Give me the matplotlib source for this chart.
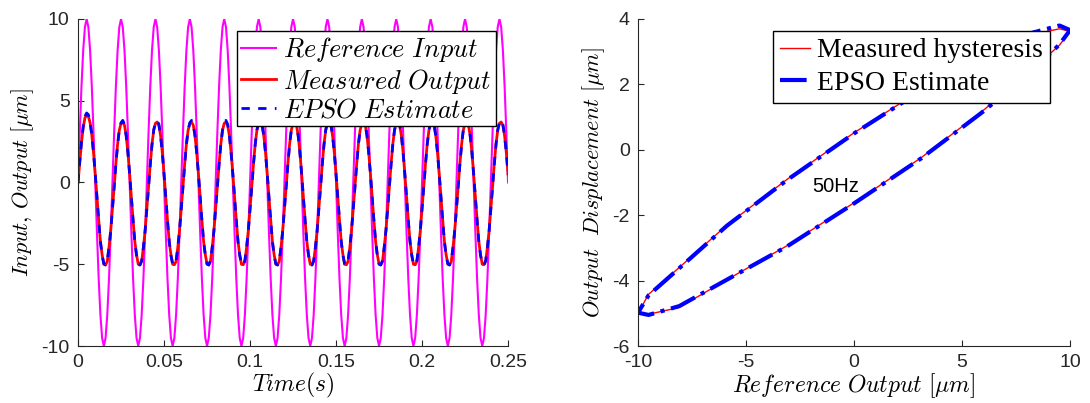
#!/usr/bin/env python3

import numpy as np
import matplotlib
matplotlib.use('Agg')
import matplotlib.pyplot as plt

plt.rcParams['font.family'] = ['Liberation Sans', 'DejaVu Sans']
plt.rcParams['mathtext.fontset'] = 'cm'
plt.rcParams['axes.unicode_minus'] = False

ref_cycle = [0.0, 3.09, 5.88, 8.09, 9.51, 10.0, 9.51, 8.09, 5.88, 3.09,
             0.0, -3.09, -5.88, -8.09, -9.51, -10.0, -9.51, -8.09, -5.88, -3.09]
meas_cycle = [-1.62, -0.25, 1.15, 2.35, 3.2, 3.62, 3.7, 3.5, 2.85, 1.82,
              0.52, -0.9, -2.3, -3.6, -4.42, -5.0, -5.03, -4.82, -3.97, -2.93]
epso_cycle = [-1.64, -0.27, 1.12, 2.32, 3.22, 3.66, 3.8, 3.55, 2.86, 1.8,
              0.5, -0.92, -2.32, -3.62, -4.45, -4.98, -5.05, -4.78, -3.97, -2.95]

# first half period (start-up transient)
meas_start = [0.0, 1.25, 2.45, 3.35, 3.95, 4.12, 4.05, 3.65, 2.9, 1.82, 0.52]
epso_start = [0.0, 1.3, 2.5, 3.45, 4.05, 4.25, 4.15, 3.72, 2.92, 1.82, 0.5]

n_cycles = 12
time = np.linspace(0, 0.25, 251)

ref = np.concatenate([np.tile(ref_cycle, n_cycles), ref_cycle[:11]])
meas = np.concatenate([meas_start, meas_cycle[11:],
                       np.tile(meas_cycle, n_cycles - 1), meas_cycle[:11]])
epso = np.concatenate([epso_start, epso_cycle[11:],
                       np.tile(epso_cycle, n_cycles - 1), epso_cycle[:11]])

fig = plt.figure(figsize=(10.9, 4.03), dpi=100)
ax1 = fig.add_axes([0.0716, 0.1414, 0.3945, 0.8115])
ax2 = fig.add_axes([0.5853, 0.1414, 0.3964, 0.8115])

ax1.plot(time, ref, color='#ff00ff', lw=1.5, label='$Reference\\ Input$')
ax1.plot(time, meas, color='red', lw=2, label='$Measured\\ Output$')
ax1.plot(time, epso, color='blue', lw=2, ls=(0, (3, 3)), label='$EPSO\\ Estimate$')
ax1.set_xlim(0, 0.25)
ax1.set_ylim(-10, 10)
ax1.set_xticks([0, 0.05, 0.1, 0.15, 0.2, 0.25])
ax1.set_xticklabels(['0', '0.05', '0.1', '0.15', '0.2', '0.25'])
ax1.set_yticks([-10, -5, 0, 5, 10])
ax1.set_xlabel('$Time(s)$', fontsize=17, labelpad=0)
ax1.set_ylabel('$Input,\\,Output\\ [\\mu m]$', fontsize=16, labelpad=4)
ax1.legend(loc='upper right', bbox_to_anchor=(0.972, 0.963), borderaxespad=0,
           fontsize=19, handlelength=1.3, handletextpad=0.3, labelspacing=0.1,
           fancybox=False, edgecolor='black', framealpha=1, borderpad=0.15)

hx = ref_cycle + ref_cycle[:1]
hy_meas = meas_cycle + meas_cycle[:1]
hy_epso = epso_cycle + epso_cycle[:1]
ax2.plot(hx, hy_meas, color='red', lw=1, label='Measured hysteresis')
ax2.plot(hx, hy_epso, color='blue', lw=3, ls='-.', label='EPSO Estimate')
ax2.set_xlim(-10, 10)
ax2.set_ylim(-6, 4)
ax2.set_xticks([-10, -5, 0, 5, 10])
ax2.set_yticks([-6, -4, -2, 0, 2, 4])
ax2.set_xlabel('$Reference\\ Output\\ [\\mu m]$', fontsize=17, labelpad=0)
ax2.set_ylabel('$Output\\ \\ Displacement\\ [\\mu m]$', fontsize=16, labelpad=4)
ax2.text(-1.95, -1.3, '50Hz', fontsize=14.5)
ax2.legend(loc='upper right', bbox_to_anchor=(0.954, 0.963), borderaxespad=0,
           prop={'family': 'Liberation Serif', 'size': 20},
           handlelength=1.1, handletextpad=0.25, labelspacing=0.25,
           fancybox=False, edgecolor='black', framealpha=1, borderpad=0.25)

for ax in (ax1, ax2):
    ax.spines['top'].set_visible(False)
    ax.spines['right'].set_visible(False)
    for s in ('left', 'bottom'):
        ax.spines[s].set_color('#262626')
    ax.tick_params(direction='in', labelsize=14, colors='#262626', length=4)
    ax.tick_params(axis='x', pad=6)
    ax.tick_params(axis='y', pad=6)

fig.savefig('out.png', dpi=100)
